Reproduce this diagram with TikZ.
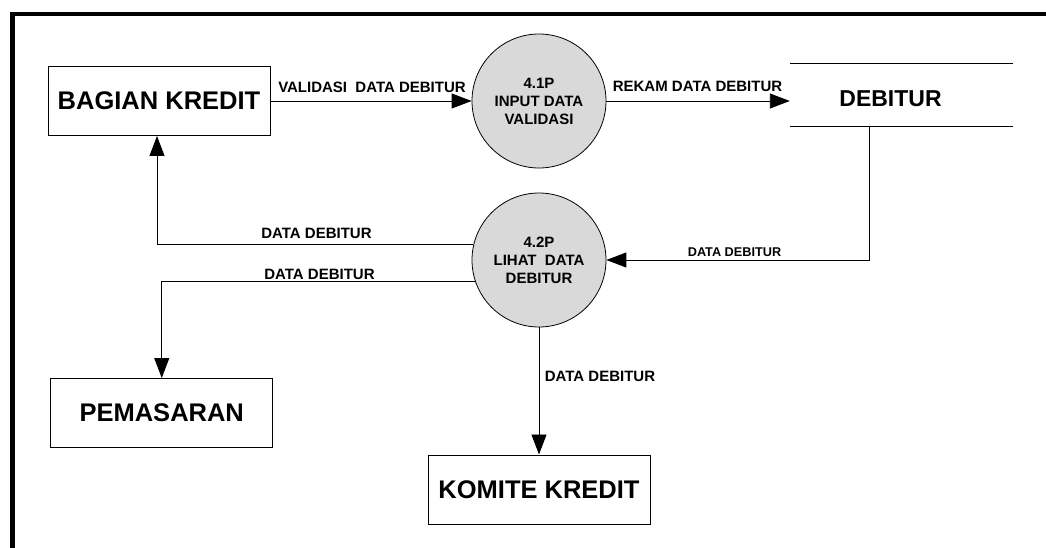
\documentclass[tikz,border=0pt]{standalone}
\usepackage{fontspec}
\setmainfont{Liberation Sans}
\usetikzlibrary{arrows.meta}
\definecolor{procgray}{RGB}{217,217,217}
\begin{document}
\begin{tikzpicture}[x=1pt,y=-1pt,
  conn/.style={draw=black, line width=0.9pt},
  flow/.style={conn, -{Triangle[length=20pt,width=15pt]}},
  ent/.style={draw=black, line width=1pt, inner sep=0pt, minimum width=222pt,
    minimum height=69pt, font=\fontsize{25.5}{30}\selectfont\bfseries},
  store/.style={inner sep=0pt, minimum width=223pt, minimum height=62pt,
    text height=24pt, text depth=0pt, font=\fontsize{23}{28}\selectfont\bfseries},
  proc/.style={circle, draw=black, line width=0.8pt, fill=procgray, minimum size=134pt,
    inner sep=0pt, align=center, font=\fontsize{15}{18}\selectfont\bfseries},
  lbl/.style={inner sep=0pt, anchor=base, font=\fontsize{15}{18}\selectfont\bfseries},
  slbl/.style={inner sep=0pt, anchor=base, font=\fontsize{12.7}{15}\selectfont\bfseries},
]
\useasboundingbox (0,0) rectangle (1046,548);
% frame
\draw[line width=4.5pt, line join=miter] (12.5,548) -- (12.5,14) -- (1046,14);

% nodes
\node[ent] (bk) at (159,101) {BAGIAN KREDIT};
\node[ent] (pm) at (161.75,413) {PEMASARAN};
\node[ent] (kk) at (539,489.5) {KOMITE KREDIT};
\node[store] (db) at (901.5,95) {\hspace*{-22pt}DEBITUR};
\draw[conn] (db.north west) -- (db.north east);
\draw[conn] (db.south west) -- (db.south east);
\node[proc] (p1) at (539,101) {4.1P\\INPUT DATA\\VALIDASI};
\node[proc] (p2) at (539,260) {4.2P\\LIHAT\ \ DATA\\DEBITUR};

% connectors
\draw[flow] (bk.east) -- (p1.west);
\draw[flow] (p1.east) -- (p1.east -| db.west);
\draw[flow] ([xshift=-32.5pt]db.south) |- (p2.east);
\draw[flow] (p2.167) -| ([xshift=-2pt]bk.south);
\draw[flow] (p2.199) -| (pm.north);
\draw[flow] (p2.south) -- (kk.north);

% labels
\node[lbl] (l1) at (372,93) {VALIDASI\ \ DATA DEBITUR};
\node[lbl] (l2) at (697.5,92) {REKAM DATA DEBITUR};
\node[slbl] (l3) at (734.5,256) {DATA DEBITUR};
\node[lbl] (l4) at (316.5,238) {DATA DEBITUR};
\node[lbl] (l5) at (319.5,279) {DATA DEBITUR};
\node[lbl] (l6) at (600,381) {DATA DEBITUR};
\end{tikzpicture}
\end{document}
